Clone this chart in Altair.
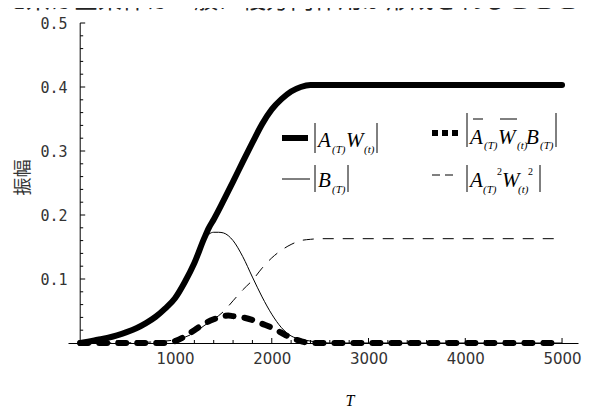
import altair as alt
import pandas as pd

# ---- data ----
# |A(T) W(t)|  (thick solid)
T_aw = [20, 100, 200, 300, 400, 500, 600, 700, 800, 900, 1000, 1100, 1200, 1300, 1350,
        1400, 1500, 1600, 1700, 1800, 1900, 2000, 2100, 2200, 2300, 2400, 2500, 5000]
v_aw = [0.000, 0.002, 0.005, 0.008, 0.012, 0.017, 0.023, 0.031, 0.041, 0.054, 0.070,
        0.095, 0.125, 0.163, 0.180, 0.193, 0.222, 0.252, 0.283, 0.313, 0.342, 0.365,
        0.381, 0.393, 0.400, 0.403, 0.403, 0.403]

# |B(T)|  (thin solid)
T_b = [20, 200, 400, 600, 800, 900, 1000, 1100, 1200, 1300, 1350, 1400, 1450, 1500,
       1600, 1700, 1800, 1900, 2000, 2100, 2200, 2300, 2400, 2500, 2600, 5000]
v_b = [0.000, 0.004, 0.011, 0.021, 0.039, 0.052, 0.068, 0.092, 0.122, 0.158, 0.170,
       0.173, 0.173, 0.172, 0.160, 0.135, 0.103, 0.072, 0.045, 0.024, 0.011, 0.006,
       0.003, 0.001, 0.000, 0.000]

# |A(T)^2 W(t)^2|  (thin dashed)
T_a2 = [20, 500, 800, 1000, 1100, 1200, 1300, 1400, 1500, 1600, 1700, 1800, 1900,
        2000, 2100, 2200, 2300, 2400, 2500, 5000]
v_a2 = [0.000, 0.0003, 0.002, 0.005, 0.009, 0.016, 0.027, 0.037, 0.049, 0.066, 0.083,
        0.098, 0.117, 0.133, 0.145, 0.154, 0.160, 0.162, 0.163, 0.163]

# |Abar(T) Wbar(t) B(T)|  (thick dashed)
T_awb = [20, 900, 1000, 1100, 1200, 1300, 1400, 1500, 1550, 1600, 1700, 1800, 1900,
         2000, 2100, 2200, 2300, 2400, 5000]
v_awb = [0.000, 0.000, 0.003, 0.010, 0.020, 0.030, 0.037, 0.042, 0.043, 0.042, 0.040,
         0.036, 0.030, 0.024, 0.016, 0.008, 0.003, 0.000, 0.000]

x_labels = [1000, 2000, 3000, 4000, 5000]
x_minor = [200, 400, 600, 800, 1200, 1400, 1600, 1800, 2200, 2400, 2600, 2800,
           3200, 3400, 3600, 3800, 4200, 4400, 4600, 4800]
y_labels = [0.1, 0.2, 0.3, 0.4, 0.5]
y_minor = [0.02, 0.04, 0.06, 0.08, 0.12, 0.14, 0.16, 0.18, 0.22, 0.24, 0.26, 0.28,
           0.32, 0.34, 0.36, 0.38, 0.42, 0.44, 0.46, 0.48]
y_axis_T = 20

x_title = "T"
y_title = "振幅"
top_text = "た系は全条件は一般に複方向作用が形成されることと"

# ---- chart ----
XDOM = [-106, 5165]
xs = alt.Scale(domain=XDOM, nice=False, zero=False)
ys = alt.Scale(domain=[0, 0.5], nice=False, zero=False)

x_axis = alt.Axis(values=x_labels, ticks=False, tickSize=0, grid=False, domain=True,
                  domainColor="black", domainWidth=1, labelFont="DejaVu Sans",
                  labelFontSize=15, labelColor="#333", labelPadding=8, labelFlush=False,
                  format="d", title=None)
y_axis = alt.Axis(values=y_labels, ticks=False, tickSize=0, grid=False, domain=False,
                  labelFont="DejaVu Sans Mono", labelFontSize=15, labelColor="#333",
                  labelPadding=1, labelFlush=False, format=".1f",
                  title=y_title, titleFont="Noto Sans CJK JP", titleFontSize=18,
                  titleFontWeight="normal", titleColor="#333", titleX=-45, titleY=154,
                  titleAngle=270, titleAlign="center", titleBaseline="middle")


def series(T, v):
    return pd.DataFrame({"T": T, "v": v})


def line(df, w, dash=None, cap="butt"):
    kw = dict(color="black", strokeWidth=w, interpolate="monotone", strokeCap=cap)
    if dash:
        kw["strokeDash"] = dash
    return alt.Chart(df).mark_line(**kw).encode(
        x=alt.X("T:Q", scale=xs, axis=x_axis),
        y=alt.Y("v:Q", scale=ys, axis=y_axis),
    )


dummy = pd.DataFrame({"k": [0]})


def txt(s, px, py, size, italic=True, font="Liberation Serif", align="left",
        baseline="alphabetic", color="black"):
    return alt.Chart(dummy).mark_text(
        text=s, font=font, fontSize=size, fontStyle="italic" if italic else "normal",
        align=align, baseline=baseline, color=color
    ).encode(x=alt.value(px), y=alt.value(py))


def prule(x1, y1, x2, y2, w=1.0, dash=None):
    kw = dict(color="black", strokeWidth=w)
    if dash:
        kw["strokeDash"] = dash
    return alt.Chart(dummy).mark_rule(**kw).encode(
        x=alt.value(x1), x2=alt.value(x2), y=alt.value(y1), y2=alt.value(y2))


layers = []
layers.append(line(series(T_a2, v_a2), 1, dash=[11, 9]))
layers.append(line(series(T_b, v_b), 1))
layers.append(line(series(T_awb, v_awb), 6, dash=[8, 11], cap="round"))
layers.append(line(series(T_aw, v_aw), 6, cap="round"))

# y axis line at T = y_axis_T
layers.append(alt.Chart(pd.DataFrame({"T": [y_axis_T]})).mark_rule(color="black", strokeWidth=1).encode(
    x=alt.X("T:Q", scale=xs, axis=x_axis), y=alt.datum(0, scale=ys, axis=y_axis), y2=alt.datum(0.5)))

# inward ticks
layers.append(alt.Chart(pd.DataFrame({"v": y_labels})).mark_rule(color="black", x2Offset=5).encode(
    x=alt.datum(y_axis_T, scale=xs, axis=x_axis), x2=alt.datum(y_axis_T),
    y=alt.Y("v:Q", scale=ys, axis=y_axis)))
layers.append(alt.Chart(pd.DataFrame({"v": y_minor})).mark_rule(color="black", x2Offset=3).encode(
    x=alt.datum(y_axis_T, scale=xs, axis=x_axis), x2=alt.datum(y_axis_T),
    y=alt.Y("v:Q", scale=ys, axis=y_axis)))
layers.append(alt.Chart(pd.DataFrame({"T": x_labels})).mark_rule(color="black", y2Offset=-5).encode(
    y=alt.datum(0, scale=ys, axis=y_axis), y2=alt.datum(0),
    x=alt.X("T:Q", scale=xs, axis=x_axis)))
layers.append(alt.Chart(pd.DataFrame({"T": x_minor})).mark_rule(color="black", y2Offset=-3).encode(
    y=alt.datum(0, scale=ys, axis=y_axis), y2=alt.datum(0),
    x=alt.X("T:Q", scale=xs, axis=x_axis)))

# ---- hand-made legend (plot-pixel coordinates) ----
BIG, SUB, SUP = 21, 11, 10
# row 1, col 1: |A(T) W(t)|
layers += [
    prule(214, 115, 240, 115, w=6),
    prule(247, 100, 247, 130),
    txt("A", 250, 124, BIG), txt("(T)", 264, 130, SUB),
    txt("W", 278, 124, BIG), txt("(t)", 296, 130, SUB),
    prule(309, 100, 309, 130),
]
# row 2, col 1: |B(T)|
layers += [
    prule(214, 156, 242, 156, w=1),
    prule(247, 142, 247, 169),
    txt("B", 250, 164, BIG), txt("(T)", 264, 170, SUB),
    prule(280, 142, 280, 169),
]
# row 1, col 2: |Abar(T) Wbar(t) B(T)|
layers += [
    prule(364, 110, 391, 110, w=6, dash=[6, 4]),
    prule(399, 90, 399, 124),
    txt("A", 402, 121, BIG), prule(405, 96, 415, 96), txt("(T)", 416, 126, SUB),
    txt("W", 430, 121, BIG), prule(432, 96, 449, 96), txt("(t)", 449, 126, SUB),
    txt("B", 458, 121, BIG), txt("(T)", 472, 126, SUB),
    prule(488, 90, 488, 124),
]
# row 2, col 2: |A(T)^2 W(t)^2|
layers += [
    prule(364, 152, 385, 152, w=1, dash=[8, 5]),
    prule(399, 142, 399, 169),
    txt("A", 402, 164, BIG), txt("(T)", 415, 170, SUB), txt("2", 429, 152, SUP, italic=False),
    txt("W", 434, 164, BIG), txt("(t)", 450, 170, SUB), txt("2", 460, 152, SUP, italic=False),
    prule(472, 142, 472, 169),
]

# x-axis title (italic T below the axis)
layers.append(txt(x_title, 282, 370, 16, align="center", baseline="top"))

# cropped line of body text at the very top
layers.append(txt(top_text, -66, -15, 24, italic=False, font="Noto Sans CJK JP", color="#222"))

chart = alt.layer(*layers).properties(
    width=510, height=320,
    autosize=alt.AutoSizeParams(type="none"),
    padding={"left": 60, "top": 15, "right": 6, "bottom": 64},
    background="white",
).configure_view(stroke=None)

chart.save("out.html", embed_options={"renderer": "svg", "actions": False})
